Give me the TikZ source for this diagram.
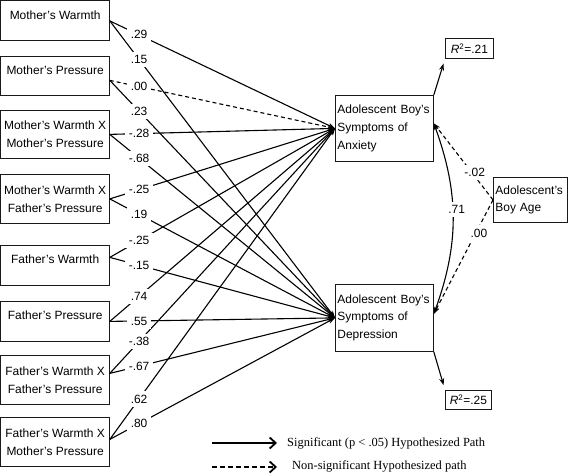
\documentclass[tikz,border=0pt]{standalone}
\usepackage{fontspec}
\setmainfont{Liberation Serif}
\setsansfont{Liberation Sans}
\usepackage{tikz}
\usepackage{xcolor}
\usetikzlibrary{arrows.meta}
\definecolor{boxColor}{HTML}{1A1A1A}
\definecolor{linkColor}{HTML}{000000}
\definecolor{labelBgColor}{HTML}{FFFFFF}
\def\textMW{Mother's Warmth}
\def\textMP{Mother's Pressure}
\def\textMWMP{Mother's Warmth X\\Mother's Pressure}
\def\textMWFP{Mother's Warmth X\\Father's Pressure}
\def\textFW{Father's Warmth}
\def\textFP{Father's Pressure}
\def\textFWFP{Father's Warmth X\\Father's Pressure}
\def\textFWMP{Father's Warmth X\\Mother's Pressure}
\def\textAnx{Adolescent Boy's\\Symptoms of\\Anxiety}
\def\textDep{Adolescent Boy's\\Symptoms of\\Depression}
\def\textAge{Adolescent's\\Boy Age}
\tikzset{
  predBox/.style={draw=boxColor, line width=.8bp, inner sep=0pt, anchor=north west,
    minimum width=108.5bp, align=center, font=\sffamily\fontsize{12}{18}\selectfont},
  oneLine/.style={predBox, minimum height=40bp, text depth=12bp},
  twoLine/.style={predBox, minimum height=48bp},
  outBox/.style={draw=boxColor, line width=.8bp, inner xsep=2bp, inner ysep=0pt,
    anchor=north west, align=left, font=\sffamily\fontsize{12}{18}\selectfont},
  rBox/.style={draw=boxColor, line width=.8bp, inner sep=0pt, anchor=north west,
    font=\sffamily\fontsize{12}{14}\selectfont},
  link/.style={draw=linkColor, line width=1.1bp, -{Stealth[length=7bp,width=5bp]}},
  nsLink/.style={link, dash pattern=on 4bp off 3bp},
  biLink/.style={draw=linkColor, line width=1.1bp,
    {Stealth[length=7bp,width=5bp]}-{Stealth[length=7bp,width=5bp]}},
  coef/.style={fill=labelBgColor, inner sep=3.5bp, font=\sffamily\fontsize{12}{14}\selectfont},
  legText/.style={anchor=west, inner sep=0pt, font=\rmfamily\fontsize{12.5}{14}\selectfont},
  legArrow/.style={draw=linkColor, line width=1.8bp, -{Straight Barb[length=6bp,width=11bp]}}
}

\begin{document}
\begin{tikzpicture}[x=1bp,y=-1bp]

\fill[white] (0, 0) rectangle (568, 476);
\useasboundingbox (0, 0) rectangle (568, 476);

% predictor boxes
\begin{scope}
\node[oneLine, minimum height=40bp] (mw) at (0.5, 0.5) {\textMW};
\node[oneLine, minimum height=39bp] (mp) at (0.5, 56) {\textMP};
\node[twoLine] (mwmp) at (0.5, 110) {\textMWMP};
\node[twoLine, minimum height=49bp] (mwfp) at (0.5, 174) {\textMWFP};
\node[oneLine] (fw) at (0.5, 245) {\textFW};
\node[oneLine] (fp) at (0.5, 301) {\textFP};
\node[twoLine, minimum height=49bp] (fwfp) at (0.5, 355) {\textFWFP};
\node[twoLine, minimum height=49bp] (fwmp) at (0.5, 417) {\textFWMP};
\end{scope}

% outcome boxes
\begin{scope}
\node[outBox, text width=94bp, minimum height=66bp] (anx) at (335, 95) {\textAnx};
\node[outBox, text width=94bp, minimum height=67bp] (dep) at (335, 284) {\textDep};
\node[outBox, text width=70bp, minimum height=45bp] (age) at (493, 177) {\textAge};
\node[rBox, minimum width=48bp, minimum height=20bp] (r1) at (445, 38) {\textit{R}\textsuperscript{2}=.21};
\node[rBox, minimum width=46bp, minimum height=19bp] (r2) at (445, 390) {\textit{R}\textsuperscript{2}=.25};
\end{scope}

% path starts
\coordinate (mwOut) at (mw.east);
\coordinate (mpOut) at ([yshift=-4.5bp]mp.east);
\coordinate (mwmpOut) at (mwmp.east);
\coordinate (mwfpOut) at (mwfp.east);
\coordinate (fwOut) at ([yshift=8bp]fw.east);
\coordinate (fpOut) at (fp.east);
\coordinate (fwfpOut) at ([yshift=6.5bp]fwfp.east);
\coordinate (fwmpOut) at ([yshift=2.5bp]fwmp.east);
\coordinate (anxIn) at ([yshift=5bp]anx.east);
\coordinate (depIn) at ([yshift=4bp]dep.east);

% link layer
\begin{scope}
\draw[link] (mwOut) -- (anx.west);
\draw[link] (mwOut) -- (dep.west);
\draw[nsLink] (mpOut) -- (anx.west);
\draw[link] (mpOut) -- (dep.west);
\draw[link] (mwmpOut) -- (anx.west);
\draw[link] (mwmpOut) -- (dep.west);
\draw[link] (mwfpOut) -- (anx.west);
\draw[link] (mwfpOut) -- (dep.west);
\draw[link] (fwOut) -- (anx.west);
\draw[link] (fwOut) -- (dep.west);
\draw[link] (fpOut) -- (anx.west);
\draw[link] (fpOut) -- (dep.west);
\draw[link] (fwfpOut) -- (anx.west);
\draw[link] (fwfpOut) -- (dep.west);
\draw[link] (fwmpOut) -- (anx.west);
\draw[link] (fwmpOut) -- (dep.west);
\draw[link, shorten >=5bp] (anx.north east) -- (r1.south west);
\draw[link, shorten >=5bp] (dep.south east) -- (r2.north west);
\draw[nsLink] (age.west) -- (anxIn);
\draw[nsLink] (age.west) -- (depIn);
\draw[biLink] (anxIn) to[bend left=20] (depIn);
\end{scope}

% label layer
\begin{scope}
\path (mwOut) -- (anx.west) node[coef, pos=.13] {.29};
\path (mwOut) -- (dep.west) node[coef, pos=.13] {.15};
\path (mpOut) -- (anx.west) node[coef, pos=.13] {.00};
\path (mpOut) -- (dep.west) node[coef, pos=.13] {.23};
\path (mwmpOut) -- (anx.west) node[coef, pos=.13] {-.28};
\path (mwmpOut) -- (dep.west) node[coef, pos=.13] {-.68};
\path (mwfpOut) -- (anx.west) node[coef, pos=.13] {-.25};
\path (mwfpOut) -- (dep.west) node[coef, pos=.13] {.19};
\path (fwOut) -- (anx.west) node[coef, pos=.13] {-.25};
\path (fwOut) -- (dep.west) node[coef, pos=.13] {-.15};
\path (fpOut) -- (anx.west) node[coef, pos=.13] {.74};
\path (fpOut) -- (dep.west) node[coef, pos=.13] {.55};
\path (fwfpOut) -- (anx.west) node[coef, pos=.13] {-.38};
\path (fwfpOut) -- (dep.west) node[coef, pos=.13] {-.67};
\path (fwmpOut) -- (anx.west) node[coef, pos=.13] {.62};
\path (fwmpOut) -- (dep.west) node[coef, pos=.13] {.80};
\path (age.west) -- (anxIn) node[coef, pos=.36, xshift=3bp] {-.02};
\path (age.west) -- (depIn) node[coef, pos=.29, xshift=3bp] {.00};
\path (anxIn) to[bend left=20] node[coef, pos=.45, xshift=4bp] {.71} (depIn);
\end{scope}

% legend
\begin{scope}
\node[legText] (sigText) at (287, 443) {Significant (p < .05) Hypothesized Path};
\node[legText] (nsText) at (292, 466) {Non-significant Hypothesized path};
\draw[legArrow] ([xshift=-75bp]sigText.west) -- ([xshift=-10bp]sigText.west);
\draw[legArrow, dash pattern=on 5bp off 3bp] ([xshift=-80bp, yshift=-1bp]nsText.west)
  -- ([xshift=-15bp, yshift=-1bp]nsText.west);
\end{scope}

\end{tikzpicture}
\end{document}
